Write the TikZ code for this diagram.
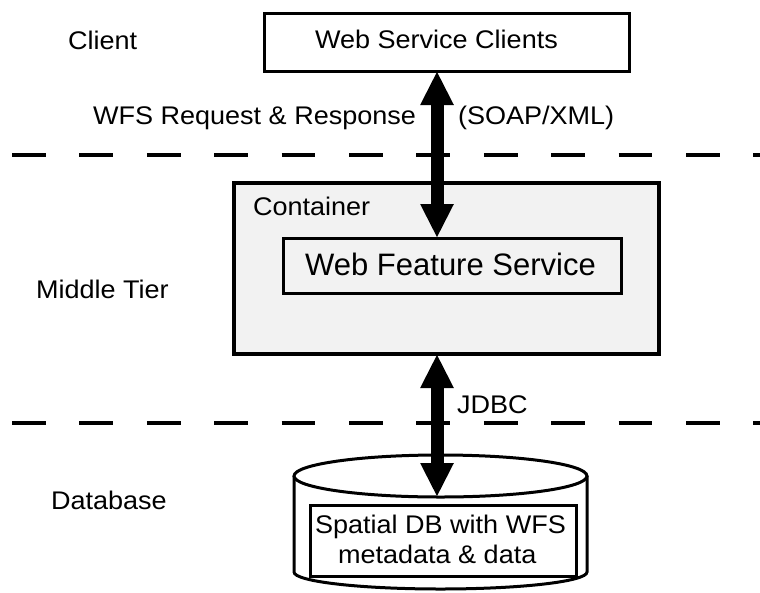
\documentclass[tikz,border=0pt]{standalone}
\usepackage{fontspec}
\setmainfont{Liberation Sans}
\newfontfamily\lblfont[FakeStretch=1.06]{Liberation Sans}
\usetikzlibrary{arrows.meta}
\tikzset{
  box/.style={draw, line width=3pt, inner sep=0pt, outer sep=0pt},
  lbl/.style={inner sep=0pt, outer sep=0pt, font=\lblfont\fontsize{25.5}{30}\selectfont},
  bigarrow/.style={line width=13pt, {Triangle[width=31pt,length=34pt]}-{Triangle[width=31pt,length=34pt]}},
  tierline/.style={line width=4.5pt, dash pattern=on 33.7pt off 33.7pt},
}
\definecolor{contgray}{HTML}{F2F2F2}
\begin{document}
\begin{tikzpicture}[x=1pt,y=-1pt]
\useasboundingbox (0,0) rectangle (760,592);
% tier separators
\draw[tierline] (12,155) -- (780,155);
\draw[tierline] (12,423) -- (780,423);
% client box
\node[box, minimum width=365pt, minimum height=58pt] (clients) at (446.5,42) {};
\node[lbl, anchor=base west] (clientstxt) at (315,48) {Web Service Clients};
% container
\node[box, line width=3.5pt, fill=contgray, minimum width=425pt, minimum height=171pt] (container) at (446.5,268.5) {};
\node[lbl, anchor=base west] (conttxt) at (253,215) {Container};
\node[box, fill=contgray, minimum width=338pt, minimum height=55pt] (wfs) at (452,265.5) {};
\node[inner sep=0pt, anchor=base west, font=\fontsize{31}{36}\selectfont] (wfstxt) at (305,275) {Web Feature Service};
% database cylinder
\draw[line width=3pt, fill=white] (294,476) -- (294,572) arc[start angle=180, end angle=0, x radius=146.5, y radius=17] -- (587,476);
\draw[line width=3pt, fill=white] (440.5,476) ellipse[x radius=146.5, y radius=21];
\coordinate (dbtop) at (437,497);
\node[box, minimum width=266pt, minimum height=71pt] (dbbox) at (443,540.5) {};
\node[lbl, anchor=base west] (db1) at (315,533) {Spatial DB with WFS};
\node[lbl, anchor=base west] (db2) at (338,563) {metadata \& data};
% arrows
\coordinate (ax) at (437,0);
\draw[bigarrow] (ax |- clients.south) -- (ax |- wfs.north);
\draw[bigarrow] (ax |- container.south) -- (dbtop);
% labels
\node[lbl, anchor=base west] (client) at (68,49) {Client};
\node[lbl, anchor=base west] (req) at (93,124) {WFS Request \& Response};
\node[lbl, anchor=base west] (soap) at (458,124) {(SOAP/XML)};
\node[lbl, anchor=base west] (middle) at (36,298) {Middle Tier};
\node[lbl, anchor=base west] (jdbc) at (457,413) {JDBC};
\node[lbl, anchor=base west] (database) at (51,509) {Database};
\end{tikzpicture}
\end{document}
